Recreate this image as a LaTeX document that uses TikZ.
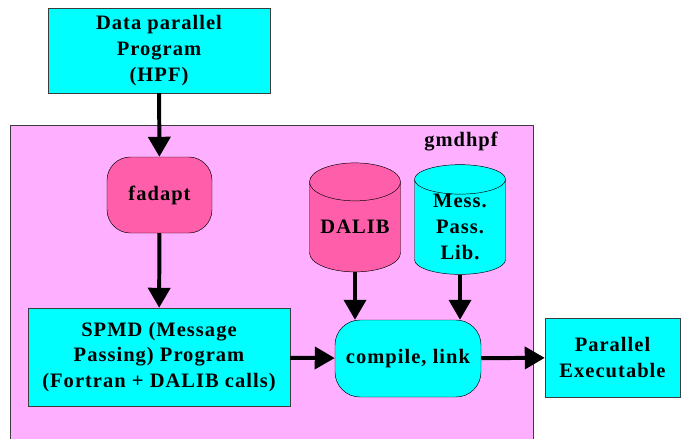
\documentclass[tikz,border=0pt]{standalone}
\usepackage{fontspec}
\setmainfont[LetterSpace=5]{Liberation Serif}
\usetikzlibrary{arrows.meta,positioning,shapes.geometric}
\definecolor{aqua}{RGB}{0,255,255}
\definecolor{lightpink}{RGB}{255,175,255}
\definecolor{hotpink}{RGB}{255,95,170}
\definecolor{edge}{RGB}{60,60,60}

\begin{document}
\begin{tikzpicture}[x=0.03cm, y=-0.03cm,
        font=\fontsize{17.5}{22}\selectfont\bfseries,
        box/.style={rectangle, draw=edge, fill=aqua, align=center, inner sep=0pt},
        proc/.style={rectangle, rounded corners=0.7cm, draw=black, align=center, inner sep=0pt},
        store/.style={cylinder, shape border rotate=90, aspect=0.55, draw=black, align=center, inner sep=0pt},
        arrow/.style={-{Triangle[length=0.6cm, width=0.66cm]}, line width=3.4pt}
    ]
    \useasboundingbox (0,0) rectangle (683,438);
    % tool frame
    \node[rectangle, draw=edge, fill=lightpink, minimum width=15.69cm, minimum height=9.9cm] (frame) at (271.5,290) {};
    \node (tool) at (461,142) {gmdhpf};
    % stages
    \node[box, minimum width=6.66cm, minimum height=2.55cm] (hpf) at (159,50.5) {Data parallel\\Program\\(HPF)};
    \node[proc, fill=hotpink, minimum width=3.15cm, minimum height=2.28cm] (fadapt) at (159.5,195) {fadapt};
    \node[box, minimum width=7.86cm, minimum height=2.94cm] (spmd) at (159,357) {SPMD (Message\\Passing) Program\\(Fortran + DALIB calls)};
    \node[store, fill=hotpink, minimum width=2.73cm, minimum height=3.27cm] (dalib) at (355,227) {DALIB};
    \node[store, fill=aqua, minimum width=2.73cm, minimum height=3.27cm] (mpl) at (460,227) {Mess.\\Pass.\\Lib.};
    \node[proc, fill=aqua, rounded corners=0.75cm, minimum width=4.38cm, minimum height=2.31cm] (link) at (408,358.5) {compile, link};
    \node[box, minimum width=4.05cm, minimum height=2.37cm] (exe) at (612.5,357.5) {Parallel\\Executable};
    % flow
    \draw[arrow] (hpf) -- (fadapt);
    \draw[arrow] (fadapt) -- (spmd);
    \draw[arrow] (spmd) -- (link);
    \draw[arrow] (dalib) -- (dalib |- link.north);
    \draw[arrow] (mpl) -- (mpl |- link.north);
    \draw[arrow] (link) -- (exe);
\end{tikzpicture}
\end{document}
